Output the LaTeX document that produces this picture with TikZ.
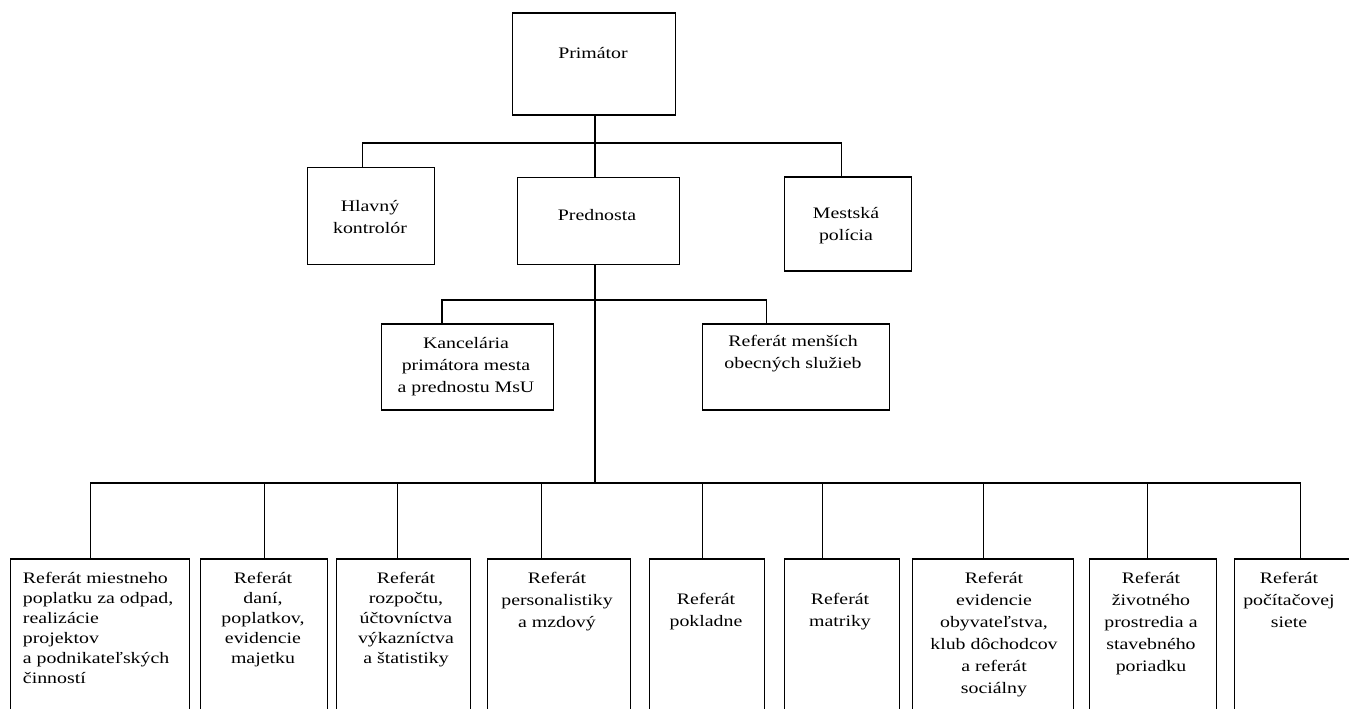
\documentclass[tikz,border=0pt]{standalone}
\usepackage{fontspec}
\setmainfont[FakeStretch=1.24]{Liberation Serif}
\usetikzlibrary{positioning}

\begin{document}
\begin{tikzpicture}[x=0.75pt,y=-0.75pt,
      box/.style={draw,line width=0.95pt,anchor=north west,inner sep=0pt},
      txt/.style={anchor=north,align=center,inner sep=0pt,font=\fontsize{12}{16.5}\selectfont},
      tight/.style={font=\fontsize{12}{15}\selectfont},
      link/.style={line width=0.95pt}
      ]
      \useasboundingbox (0,0) rectangle (1349,709);
      \clip (0,0) rectangle (1349,709);

      % upper part
      \node[box, minimum width=163*0.75pt, minimum height=102*0.75pt] (prim) at (512,12.3) {};
      \node[box, minimum width=127*0.75pt, minimum height=97*0.75pt] (hlav) at (307,167) {};
      \node[box, minimum width=162*0.75pt, minimum height=87*0.75pt] (pred) at (517,177) {};
      \node[box, minimum width=127*0.75pt, minimum height=94*0.75pt] (mest) at (784,176.3) {};
      \node[box, minimum width=172*0.75pt, minimum height=86*0.75pt] (kanc) at (381,323.3) {};
      \node[box, minimum width=187*0.75pt, minimum height=86*0.75pt] (refm) at (702,323.3) {};

      \node[txt] (primt) at (593,47) {Primátor};
      \node[txt] (hlavt) at (370,200) {Hlavný\\kontrolór};
      \node[txt] (predt) at (597,209) {Prednosta};
      \node[txt] (mestt) at (846,207) {Mestská\\polícia};
      \node[txt] (kanct) at (466,337) {Kancelária\\primátora mesta\\a prednostu MsU};
      \node[txt] (refmt) at (793,335) {Referát menších\\obecných služieb};

      % referaty
      \node[box, minimum width=179*0.75pt, minimum height=172*0.75pt] (b1) at (10,558.3) {};
      \node[box, minimum width=127*0.75pt, minimum height=172*0.75pt] (b2) at (200,558.3) {};
      \node[box, minimum width=134*0.75pt, minimum height=172*0.75pt] (b3) at (336,558.3) {};
      \node[box, minimum width=143*0.75pt, minimum height=172*0.75pt] (b4) at (487,558.3) {};
      \node[box, minimum width=115*0.75pt, minimum height=172*0.75pt] (b5) at (649,558.3) {};
      \node[box, minimum width=115*0.75pt, minimum height=172*0.75pt] (b6) at (784,558.3) {};
      \node[box, minimum width=161*0.75pt, minimum height=172*0.75pt] (b7) at (912,558.3) {};
      \node[box, minimum width=127*0.75pt, minimum height=172*0.75pt] (b8) at (1089,558.3) {};
      \node[box, minimum width=131*0.75pt, minimum height=172*0.75pt] (b9) at (1234,558.3) {};

      \node[txt, tight, anchor=north west, align=left] (b1t) at (22.7,571.7) {Referát miestneho\\poplatku za odpad,\\realizácie\\projektov\\a podnikateľských\\činností};
      \node[txt, tight] (b2t) at (263,571.7) {Referát\\daní,\\poplatkov,\\evidencie\\majetku};
      \node[txt, tight] (b3t) at (406,571.7) {Referát\\rozpočtu,\\účtovníctva\\výkazníctva\\a štatistiky};
      \node[txt] (b4t) at (557,571.7) {Referát\\personalistiky\\a mzdový};
      \node[txt] (b5t) at (706,593) {Referát\\pokladne};
      \node[txt] (b6t) at (840,593) {Referát\\matriky};
      \node[txt] (b7t) at (994,571.7) {Referát\\evidencie\\obyvateľstva,\\klub dôchodcov\\a referát\\sociálny};
      \node[txt] (b8t) at (1151,571.7) {Referát\\životného\\prostredia a\\stavebného\\poriadku};
      \node[txt] (b9t) at (1289,571.7) {Referát\\počítačovej\\siete};

      \coordinate (hub1) at (595,143);
      \coordinate (hub2) at (595,300);
      \coordinate (hub3) at (595,483);

      \draw[link] (prim.south -| hub1) -- (pred.north -| hub1);
      \draw[link] ([xshift=-6.4pt]hlav.north) |- (hub1) -| ([xshift=-4.9pt]mest.north);
      \draw[link] (pred.south -| hub1) -- (hub3);
      \draw[link] ([xshift=-19.3pt]kanc.north) |- (hub2) -| ([xshift=-22.1pt]refm.north);

      \draw[link] ([xshift=-7.1pt]b1.north) |- (hub3) -| (b9.north);
      \draw[link] (b2.north) -- (b2.north |- hub3);
      \draw[link] ([xshift=-4.5pt]b3.north) -- ([xshift=-4.5pt]b3.north |- hub3);
      \draw[link] ([xshift=-13.1pt]b4.north) -- ([xshift=-13.1pt]b4.north |- hub3);
      \draw[link] ([xshift=-3.4pt]b5.north) -- ([xshift=-3.4pt]b5.north |- hub3);
      \draw[link] ([xshift=-14.6pt]b6.north) -- ([xshift=-14.6pt]b6.north |- hub3);
      \draw[link] ([xshift=-7.1pt]b7.north) -- ([xshift=-7.1pt]b7.north |- hub3);
      \draw[link] ([xshift=-4.1pt]b8.north) -- ([xshift=-4.1pt]b8.north |- hub3);
    \end{tikzpicture}
\end{document}
